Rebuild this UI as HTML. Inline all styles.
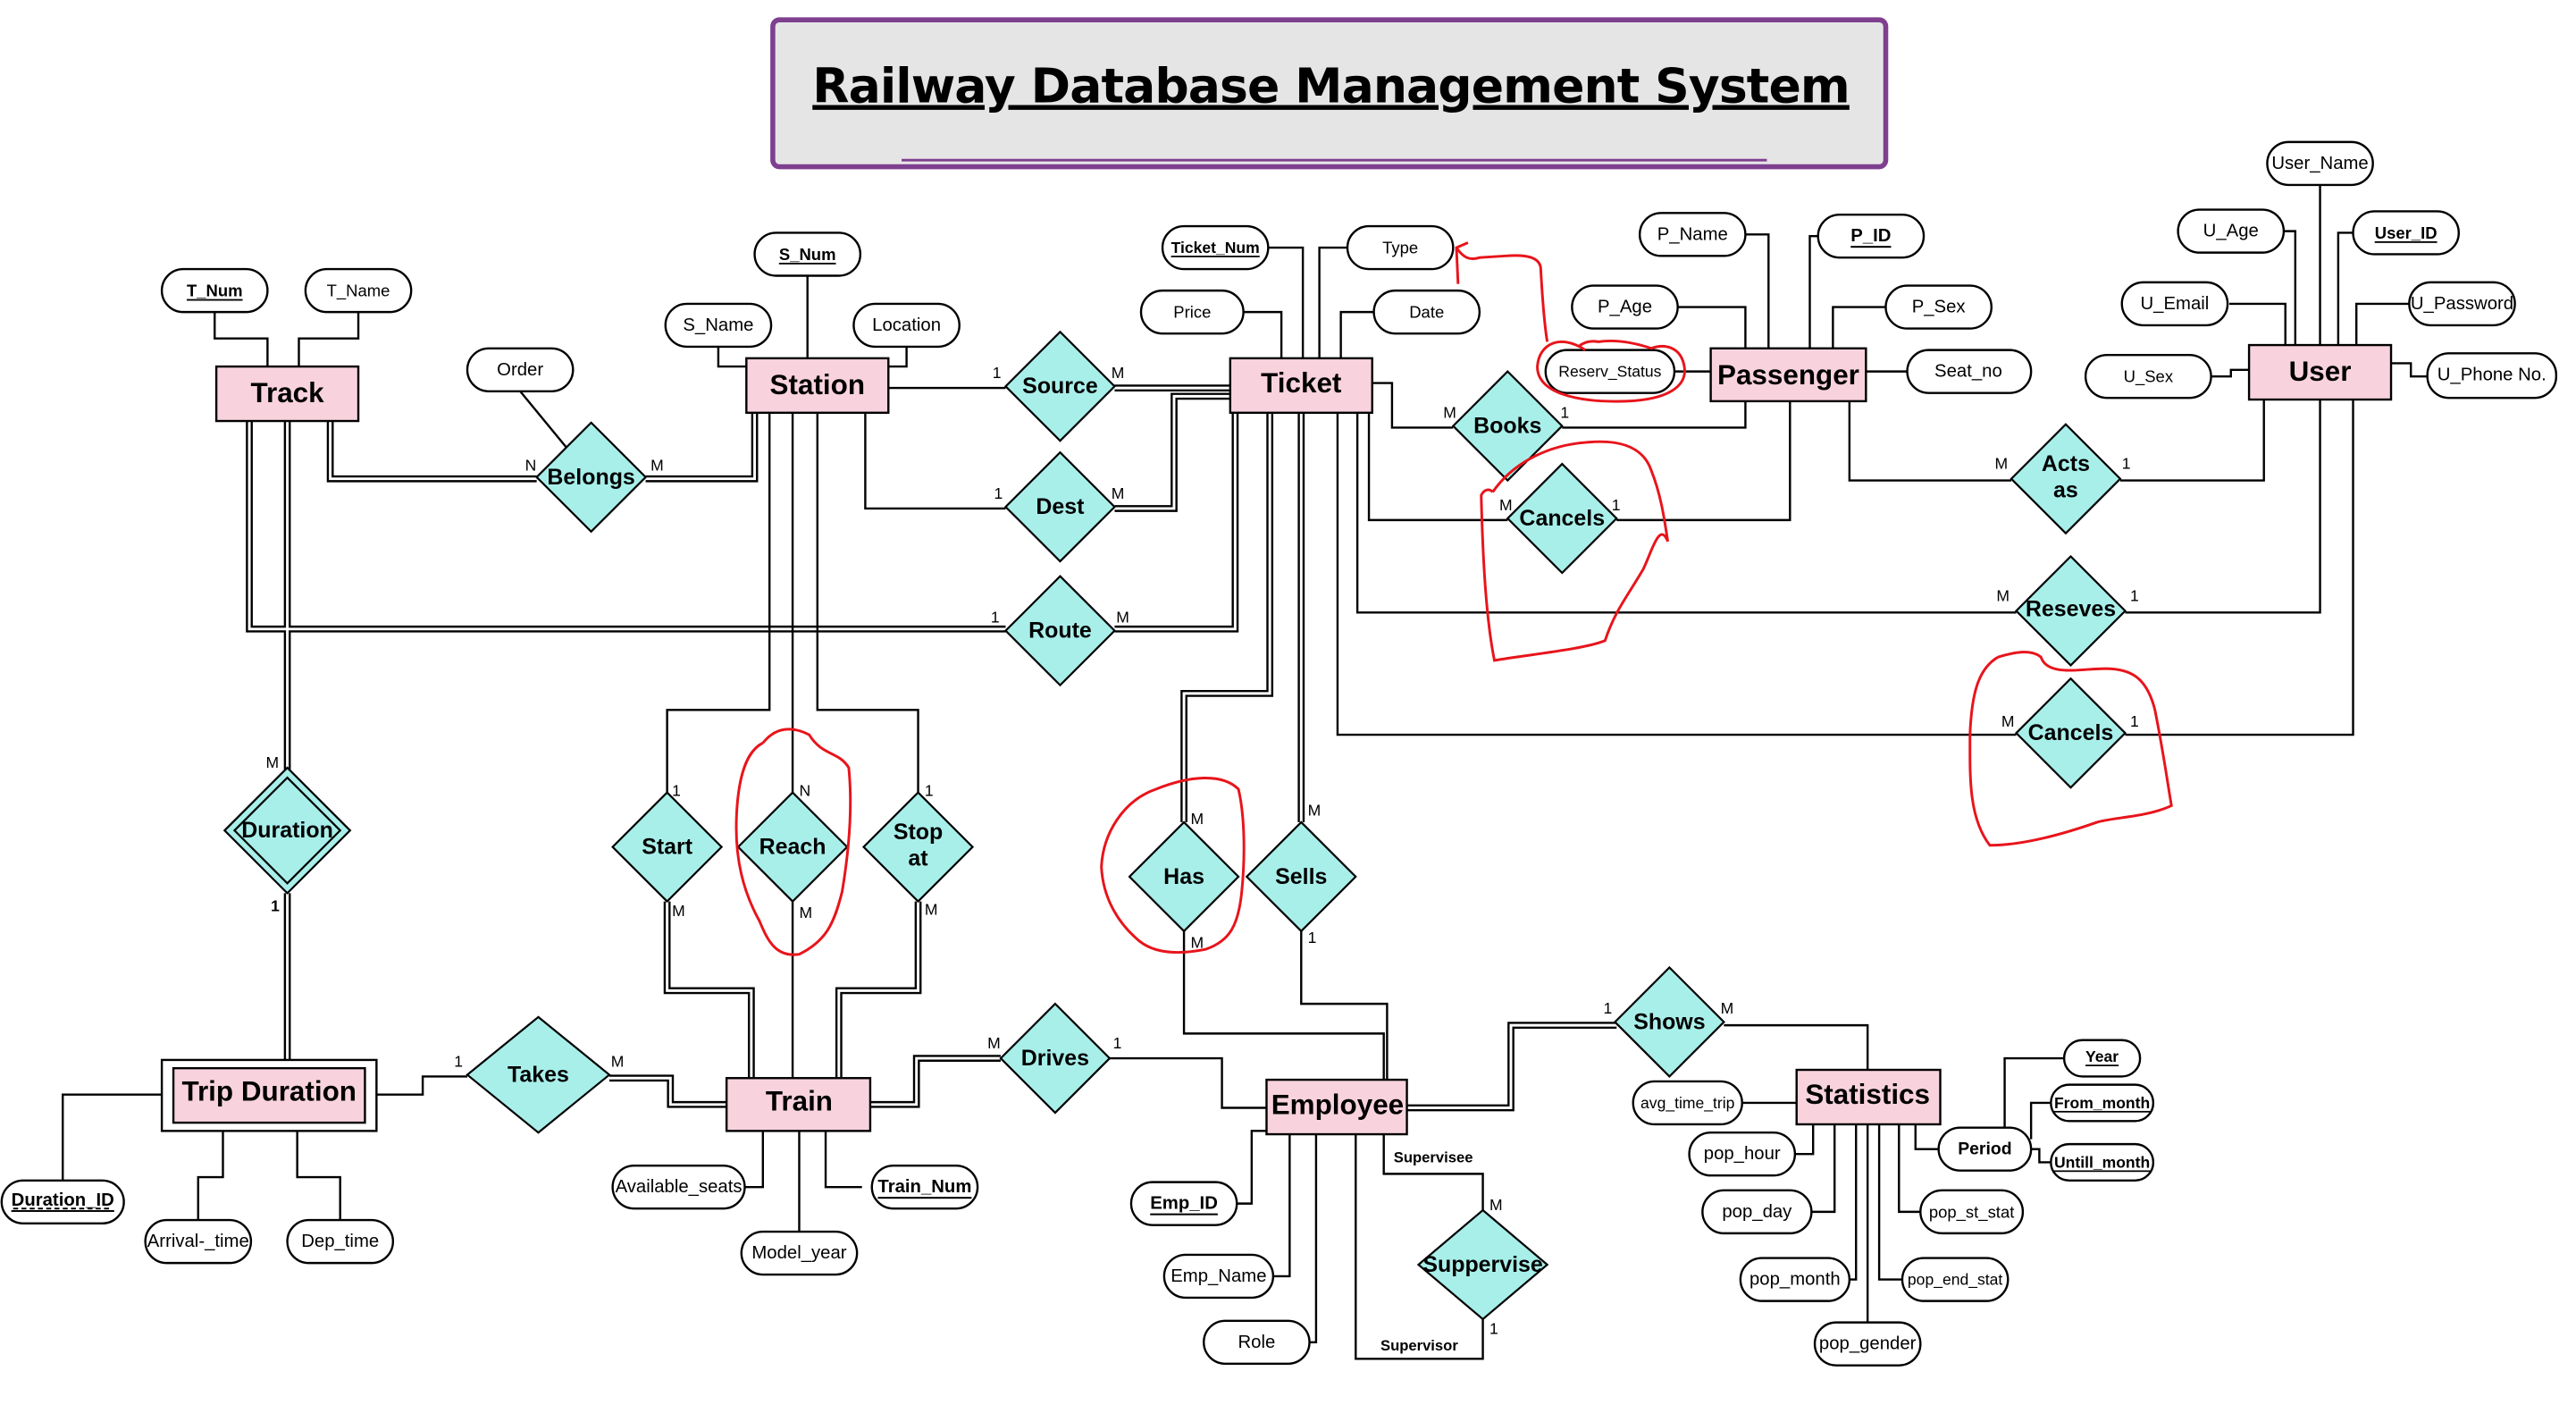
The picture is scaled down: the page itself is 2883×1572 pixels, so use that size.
<!DOCTYPE html>
<html><head><meta charset="utf-8"><style>
html,body{margin:0;padding:0;background:#fff}
svg{display:block}
text{font-family:"Liberation Sans Narrow","Liberation Sans",sans-serif;fill:#000}
.a rect{fill:#fff;stroke:#000;stroke-width:1.3}
.a text{font-size:11px;text-anchor:middle;dominant-baseline:central}
.e rect{fill:#f8d3de;stroke:#000;stroke-width:1.3}
.e text{font-size:17px;font-weight:bold;text-anchor:middle;dominant-baseline:central}
.r polygon{fill:#a8efea;stroke:#000;stroke-width:1.2}
.r text{font-size:13.5px;font-weight:bold;text-anchor:middle;dominant-baseline:central}
.s{fill:none;stroke:#000;stroke-width:1.3}
.d1{fill:none;stroke:#000;stroke-width:4.2}
.d2{fill:none;stroke:#fff;stroke-width:1.6}
.c{font-size:9.5px}
.u{text-decoration:underline;font-weight:bold}
.red{fill:none;stroke:#e8141b;stroke-width:1.6}
</style></head><body>
<svg width="2883" height="1572" viewBox="0 0 1560 851" preserveAspectRatio="none" xmlns="http://www.w3.org/2000/svg">
<!-- title -->
<rect x="468" y="12" width="674" height="89" rx="4" fill="#e5e5e5" stroke="#7f3f8f" stroke-width="3"/>
<line x1="546" y1="97" x2="1070" y2="97" stroke="#7f3f8f" stroke-width="1.5"/>
<text x="806" y="62" text-anchor="middle" style="font-family:'DejaVu Sans','Liberation Sans',sans-serif;font-size:29px;font-weight:bold;text-decoration:underline;letter-spacing:-0.5px">Railway Database Management System</text>

<!-- double lines -->
<g class="d1">
<polyline id="p1" points="200,255 200,290 325,290"/>
<polyline points="391,290 457,290 457,250"/>
<polyline points="151,255 151,381 609,381"/>
<polyline points="675,381 748,381 748,250"/>
<polyline points="174,255 174,466"/>
<polyline points="174,541 174,642"/>
<polyline points="675,235 745,235"/>
<polyline points="675,308 711,308 711,240 745,240"/>
<polyline points="404,546 404,600 455,600 455,653"/>
<polyline points="556,546 556,600 508,600 508,653"/>
<polyline points="440,669 406,669 406,653 369,653"/>
<polyline points="527,669 555,669 555,641 606,641"/>
<polyline points="769,250 769,420 717,420 717,498"/>
<polyline points="788,250 788,498"/>
<polyline points="852,671 915,671 915,621 979,621"/>
</g>
<g class="d2">
<polyline points="200,255 200,290 325,290"/>
<polyline points="391,290 457,290 457,250"/>
<polyline points="151,255 151,381 609,381"/>
<polyline points="675,381 748,381 748,250"/>
<polyline points="174,255 174,466"/>
<polyline points="174,541 174,642"/>
<polyline points="675,235 745,235"/>
<polyline points="675,308 711,308 711,240 745,240"/>
<polyline points="404,546 404,600 455,600 455,653"/>
<polyline points="556,546 556,600 508,600 508,653"/>
<polyline points="440,669 406,669 406,653 369,653"/>
<polyline points="527,669 555,669 555,641 606,641"/>
<polyline points="769,250 769,420 717,420 717,498"/>
<polyline points="788,250 788,498"/>
<polyline points="852,671 915,671 915,621 979,621"/>
</g>

<!-- single lines -->
<g class="s">
<polyline points="130,189 130,205 162,205 162,222"/>
<polyline points="217,189 217,205 181,205 181,222"/>
<polyline points="315,237 343,271"/>
<polyline points="489,167 489,217"/>
<polyline points="435,210 435,222 452,222"/>
<polyline points="549,210 549,222 538,222"/>
<polyline points="538,235 609,235"/>
<polyline points="524,250 524,308 609,308"/>
<polyline points="466,250 466,430 404,430 404,480"/>
<polyline points="480,250 480,480"/>
<polyline points="495,250 495,430 556,430 556,480"/>
<polyline points="480,546 480,653"/>
<polyline points="283,652 256,652 256,663 228,663"/>
<polyline points="672,641 740,641 740,671 767,671"/>
<polyline points="98,663 38,663 38,715"/>
<polyline points="135,685 135,713 120,713 120,739"/>
<polyline points="180,685 180,713 206,713 206,739"/>
<polyline points="451,719 462,719 462,685"/>
<polyline points="484,685 484,746"/>
<polyline points="522,719 500,719 500,685"/>
<polyline points="767,150 789,150 789,217"/>
<polyline points="753,189 776,189 776,217"/>
<polyline points="816,150 799,150 799,217"/>
<polyline points="832,189 812,189 812,217"/>
<polyline points="831,232 843,232 843,259 880,259"/>
<polyline points="946,259 1057,259 1057,243"/>
<polyline points="829,250 829,315 913,315"/>
<polyline points="979,315 1084,315 1084,243"/>
<polyline points="822,250 822,371 1221,371"/>
<polyline points="1287,371 1405,371 1405,242"/>
<polyline points="810,250 810,445 1221,445"/>
<polyline points="1287,445 1425,445 1425,242"/>
<polyline points="717,564 717,626 838,626 838,654"/>
<polyline points="788,564 788,608 840,608 840,654"/>
<polyline points="1056,142 1071,142 1071,211"/>
<polyline points="1102,143 1096,143 1096,211"/>
<polyline points="1016,186 1057,186 1057,211"/>
<polyline points="1142,186 1110,186 1110,211"/>
<polyline points="1014,225 1036,225"/>
<polyline points="1155,225 1130,225"/>
<polyline points="1120,243 1120,291 1218,291"/>
<polyline points="1284,291 1371,291 1371,242"/>
<polyline points="1405,112 1405,209"/>
<polyline points="1381,140 1390,140 1390,209"/>
<polyline points="1425,141 1416,141 1416,209"/>
<polyline points="1350,184 1384,184 1384,209"/>
<polyline points="1460,184 1427,184 1427,209"/>
<polyline points="1339,228 1351,228 1351,224 1362,224"/>
<polyline points="1470,228 1460,228 1460,220 1448,220"/>
<polyline points="749,729 758,729 758,685 767,685"/>
<polyline points="771,773 781,773 781,687"/>
<polyline points="793,813 797,813 797,687"/>
<polyline points="838,687 838,711 898,711 898,734"/>
<polyline points="898,799 898,823 821,823 821,687"/>
<polyline points="1044,621 1131,621 1131,648"/>
<polyline points="1054,668 1088,668"/>
<polyline points="1087,699 1098,699 1098,681"/>
<polyline points="1097,734 1111,734 1111,681"/>
<polyline points="1119,775 1124,775 1124,681"/>
<polyline points="1131,801 1131,681"/>
<polyline points="1152,775 1138,775 1138,681"/>
<polyline points="1163,734 1150,734 1150,681"/>
<polyline points="1174,696 1160,696 1160,681"/>
<polyline points="1214,683 1214,641 1250,641"/>
<polyline points="1230,690 1230,668 1242,668"/>
<polyline points="1230,696 1235,696 1235,704 1242,704"/>
</g>

<!-- entities -->
<g class="e">
<rect x="131" y="222" width="86" height="33"/><text x="174" y="238">Track</text>
<rect x="452" y="217" width="86" height="33"/><text x="495" y="233">Station</text>
<rect x="745" y="217" width="86" height="33"/><text x="788" y="232">Ticket</text>
<rect x="1036" y="211" width="94" height="32"/><text x="1083" y="227">Passenger</text>
<rect x="1362" y="209" width="86" height="33"/><text x="1405" y="225">User</text>
<rect x="98" y="642" width="130" height="43" style="fill:#fff"/>
<rect x="105" y="647" width="116" height="33"/><text x="163" y="661">Trip Duration</text>
<rect x="440" y="653" width="87" height="32"/><text x="484" y="667">Train</text>
<rect x="767" y="654" width="85" height="33"/><text x="810" y="669">Employee</text>
<rect x="1088" y="648" width="87" height="33"/><text x="1131" y="663">Statistics</text>
</g>

<!-- relationships -->
<g class="r">
<polygon points="358,256 391,289 358,322 325,289"/><text x="358" y="289">Belongs</text>
<polygon points="642,201 675,234 642,267 609,234"/><text x="642" y="234">Source</text>
<polygon points="642,274 675,307 642,340 609,307"/><text x="642" y="307">Dest</text>
<polygon points="642,349 675,382 642,415 609,382"/><text x="642" y="382">Route</text>
<polygon points="913,225 946,258 913,291 880,258"/><text x="913" y="258">Books</text>
<polygon points="946,281 979,314 946,347 913,314"/><text x="946" y="314">Cancels</text>
<polygon points="1251,257 1284,290 1251,323 1218,290"/><text x="1251" y="281">Acts</text><text x="1251" y="297">as</text>
<polygon points="1254,337 1287,370 1254,403 1221,370"/><text x="1254" y="369">Reseves</text>
<polygon points="1254,411 1287,444 1254,477 1221,444"/><text x="1254" y="444">Cancels</text>
<polygon points="174,465 212,503 174,541 136,503"/>
<polygon points="174,471 206,503 174,535 142,503"/><text x="174" y="503">Duration</text>
<polygon points="404,480 437,513 404,546 371,513"/><text x="404" y="513">Start</text>
<polygon points="480,480 513,513 480,546 447,513"/><text x="480" y="513">Reach</text>
<polygon points="556,480 589,513 556,546 523,513"/><text x="556" y="504">Stop</text><text x="556" y="520">at</text>
<polygon points="717,498 750,531 717,564 684,531"/><text x="717" y="531">Has</text>
<polygon points="788,498 821,531 788,564 755,531"/><text x="788" y="531">Sells</text>
<polygon points="326,616 369,651 326,686 283,651"/><text x="326" y="651">Takes</text>
<polygon points="639,608 672,641 639,674 606,641"/><text x="639" y="641">Drives</text>
<polygon points="1011,586 1044,619 1011,652 978,619"/><text x="1011" y="619">Shows</text>
<polygon points="898,733 937,766 898,799 859,766"/><text x="898" y="766">Suppervise</text>
</g>

<!-- attributes -->
<g class="a">
<rect x="98" y="163" width="64" height="26" rx="13"/><text x="130" y="176" class="u" style="font-size:10px">T_Num</text>
<rect x="185" y="163" width="64" height="26" rx="13"/><text x="217" y="176" style="font-size:10px">T_Name</text>
<rect x="283" y="211" width="64" height="26" rx="13"/><text x="315" y="224">Order</text>
<rect x="457" y="141" width="64" height="26" rx="13"/><text x="489" y="154" class="u" style="font-size:10px">S_Num</text>
<rect x="403" y="184" width="64" height="26" rx="13"/><text x="435" y="197">S_Name</text>
<rect x="517" y="184" width="64" height="26" rx="13"/><text x="549" y="197">Location</text>
<rect x="704" y="137" width="64" height="26" rx="13"/><text x="736" y="150" class="u" style="font-size:9.5px">Ticket_Num</text>
<rect x="691" y="176" width="62" height="26" rx="13"/><text x="722" y="189" style="font-size:10px">Price</text>
<rect x="816" y="137" width="64" height="26" rx="13"/><text x="848" y="150" style="font-size:10px">Type</text>
<rect x="832" y="176" width="64" height="26" rx="13"/><text x="864" y="189" style="font-size:10px">Date</text>
<rect x="993" y="129" width="64" height="26" rx="13"/><text x="1025" y="142">P_Name</text>
<rect x="1101" y="130" width="64" height="26" rx="13"/><text x="1133" y="143" class="u">P_ID</text>
<rect x="952" y="173" width="64" height="26" rx="13"/><text x="984" y="186">P_Age</text>
<rect x="1142" y="173" width="64" height="26" rx="13"/><text x="1174" y="186">P_Sex</text>
<rect x="936" y="212" width="78" height="26" rx="13"/><text x="975" y="225" style="font-size:9.5px">Reserv_Status</text>
<rect x="1155" y="212" width="75" height="26" rx="13"/><text x="1192" y="225">Seat_no</text>
<rect x="1373" y="86" width="64" height="26" rx="13"/><text x="1405" y="99">User_Name</text>
<rect x="1319" y="127" width="64" height="26" rx="13"/><text x="1351" y="140">U_Age</text>
<rect x="1425" y="128" width="64" height="26" rx="13"/><text x="1457" y="141" class="u" style="font-size:10px">User_ID</text>
<rect x="1285" y="171" width="64" height="26" rx="13"/><text x="1317" y="184">U_Email</text>
<rect x="1459" y="171" width="64" height="26" rx="13"/><text x="1491" y="184">U_Password</text>
<rect x="1263" y="215" width="76" height="26" rx="13"/><text x="1301" y="228" style="font-size:10px">U_Sex</text>
<rect x="1470" y="214" width="78" height="27" rx="13"/><text x="1509" y="227">U_Phone No.</text>
<rect x="1" y="715" width="74" height="26" rx="13"/><text x="38" y="727" class="u">Duration_ID</text>
<line x1="8" y1="732" x2="68" y2="732" stroke="#000" stroke-width="1" stroke-dasharray="3,2"/>
<rect x="88" y="739" width="64" height="26" rx="13"/><text x="120" y="752">Arrival-_time</text>
<rect x="174" y="739" width="64" height="26" rx="13"/><text x="206" y="752">Dep_time</text>
<rect x="371" y="706" width="80" height="26" rx="13"/><text x="411" y="719">Available_seats</text>
<rect x="449" y="746" width="70" height="26" rx="13"/><text x="484" y="759">Model_year</text>
<rect x="500" y="706" width="92" height="26" rx="13" style="opacity:0"/>
<rect x="528" y="706" width="64" height="26" rx="13"/><text x="560" y="719" class="u">Train_Num</text>
<rect x="685" y="716" width="64" height="26" rx="13"/><text x="717" y="729" class="u">Emp_ID</text>
<rect x="705" y="760" width="66" height="26" rx="13"/><text x="738" y="773">Emp_Name</text>
<rect x="729" y="800" width="64" height="26" rx="13"/><text x="761" y="813">Role</text>
<rect x="989" y="655" width="66" height="26" rx="13"/><text x="1022" y="668" style="font-size:9.5px">avg_time_trip</text>
<rect x="1023" y="686" width="64" height="26" rx="13"/><text x="1055" y="699">pop_hour</text>
<rect x="1031" y="721" width="66" height="26" rx="13"/><text x="1064" y="734">pop_day</text>
<rect x="1054" y="762" width="66" height="26" rx="13"/><text x="1087" y="775">pop_month</text>
<rect x="1099" y="801" width="64" height="26" rx="13"/><text x="1131" y="814">pop_gender</text>
<rect x="1163" y="721" width="62" height="26" rx="13"/><text x="1194" y="734" style="font-size:10px">pop_st_stat</text>
<rect x="1152" y="762" width="64" height="26" rx="13"/><text x="1184" y="775" style="font-size:9.5px">pop_end_stat</text>
<rect x="1174" y="683" width="56" height="26" rx="13"/><text x="1202" y="696" style="font-weight:bold;font-size:10.5px">Period</text>
<rect x="1250" y="630" width="46" height="22" rx="11"/><text x="1273" y="640" class="u" style="font-size:9.5px">Year</text>
<rect x="1242" y="657" width="62" height="22" rx="11"/><text x="1273" y="668" class="u" style="font-size:9.5px">From_month</text>
<rect x="1242" y="693" width="62" height="22" rx="11"/><text x="1273" y="704" class="u" style="font-size:9.5px">Untill_month</text>
</g>

<!-- cardinalities -->
<g class="c">
<text x="318" y="285">N</text><text x="394" y="285">M</text>
<text x="601" y="229">1</text><text x="673" y="229">M</text>
<text x="602" y="302">1</text><text x="673" y="302">M</text>
<text x="600" y="377">1</text><text x="676" y="377">M</text>
<text x="874" y="253">M</text><text x="945" y="253">1</text>
<text x="908" y="309">M</text><text x="976" y="309">1</text>
<text x="1208" y="284">M</text><text x="1285" y="284">1</text>
<text x="1209" y="364">M</text><text x="1290" y="364">1</text>
<text x="1212" y="440">M</text><text x="1290" y="440">1</text>
<text x="161" y="465">M</text><text x="164" y="552" style="font-weight:bold">1</text>
<text x="407" y="482">1</text><text x="484" y="482">N</text><text x="560" y="482">1</text>
<text x="407" y="555">M</text><text x="484" y="556">M</text><text x="560" y="554">M</text>
<text x="721" y="499">M</text><text x="792" y="494">M</text>
<text x="721" y="574">M</text><text x="792" y="571">1</text>
<text x="275" y="646">1</text><text x="370" y="646">M</text>
<text x="598" y="635">M</text><text x="674" y="635">1</text>
<text x="971" y="614">1</text><text x="1042" y="614">M</text>
<text x="902" y="733">M</text><text x="902" y="808">1</text>
<text x="844" y="704" style="font-weight:bold;font-size:9px">Supervisee</text>
<text x="836" y="818" style="font-weight:bold;font-size:9px">Supervisor</text>
</g>

<!-- red annotations -->
<g class="red">
<path d="M883,172 L882,150 L889,147 M882,150 C886,156 890,158 896,156 L912,155 C925,154 932,156 933,162 C934,180 935,195 937,207"/>
<path d="M960,212 C945,202 932,208 931,222 C931,238 955,244 985,243 C1010,242 1022,234 1020,222 C1018,210 1008,208 1000,211 C985,206 975,206 968,207 C962,206 958,208 956,210"/>
<path d="M904,298 C915,282 935,270 960,268 C980,266 995,270 1000,285 C1006,300 1008,315 1010,328 C1005,315 1000,335 995,345 C985,362 978,370 972,388 C960,393 930,396 905,400 C900,375 898,340 897,300 C899,296 902,296 904,298"/>
<path d="M462,450 C470,440 480,440 490,445 C498,458 508,455 514,465 C516,485 515,510 510,540 C505,560 500,570 484,578 C470,580 465,570 460,558 C450,540 445,520 446,495 C447,470 452,455 462,450"/>
<path d="M700,478 C720,470 740,468 750,478 C754,495 754,520 752,540 C750,560 745,570 730,575 C715,578 700,578 690,570 C678,560 668,545 667,525 C668,505 680,485 700,478"/>
<path d="M1210,398 C1220,395 1230,393 1236,398 C1240,410 1260,405 1275,405 C1290,405 1300,410 1305,430 C1310,455 1312,470 1315,488 C1300,495 1280,495 1270,498 C1250,505 1225,512 1205,512 C1192,495 1193,470 1193,445 C1194,420 1198,405 1210,398"/>
</g>
</svg>
</body></html>
